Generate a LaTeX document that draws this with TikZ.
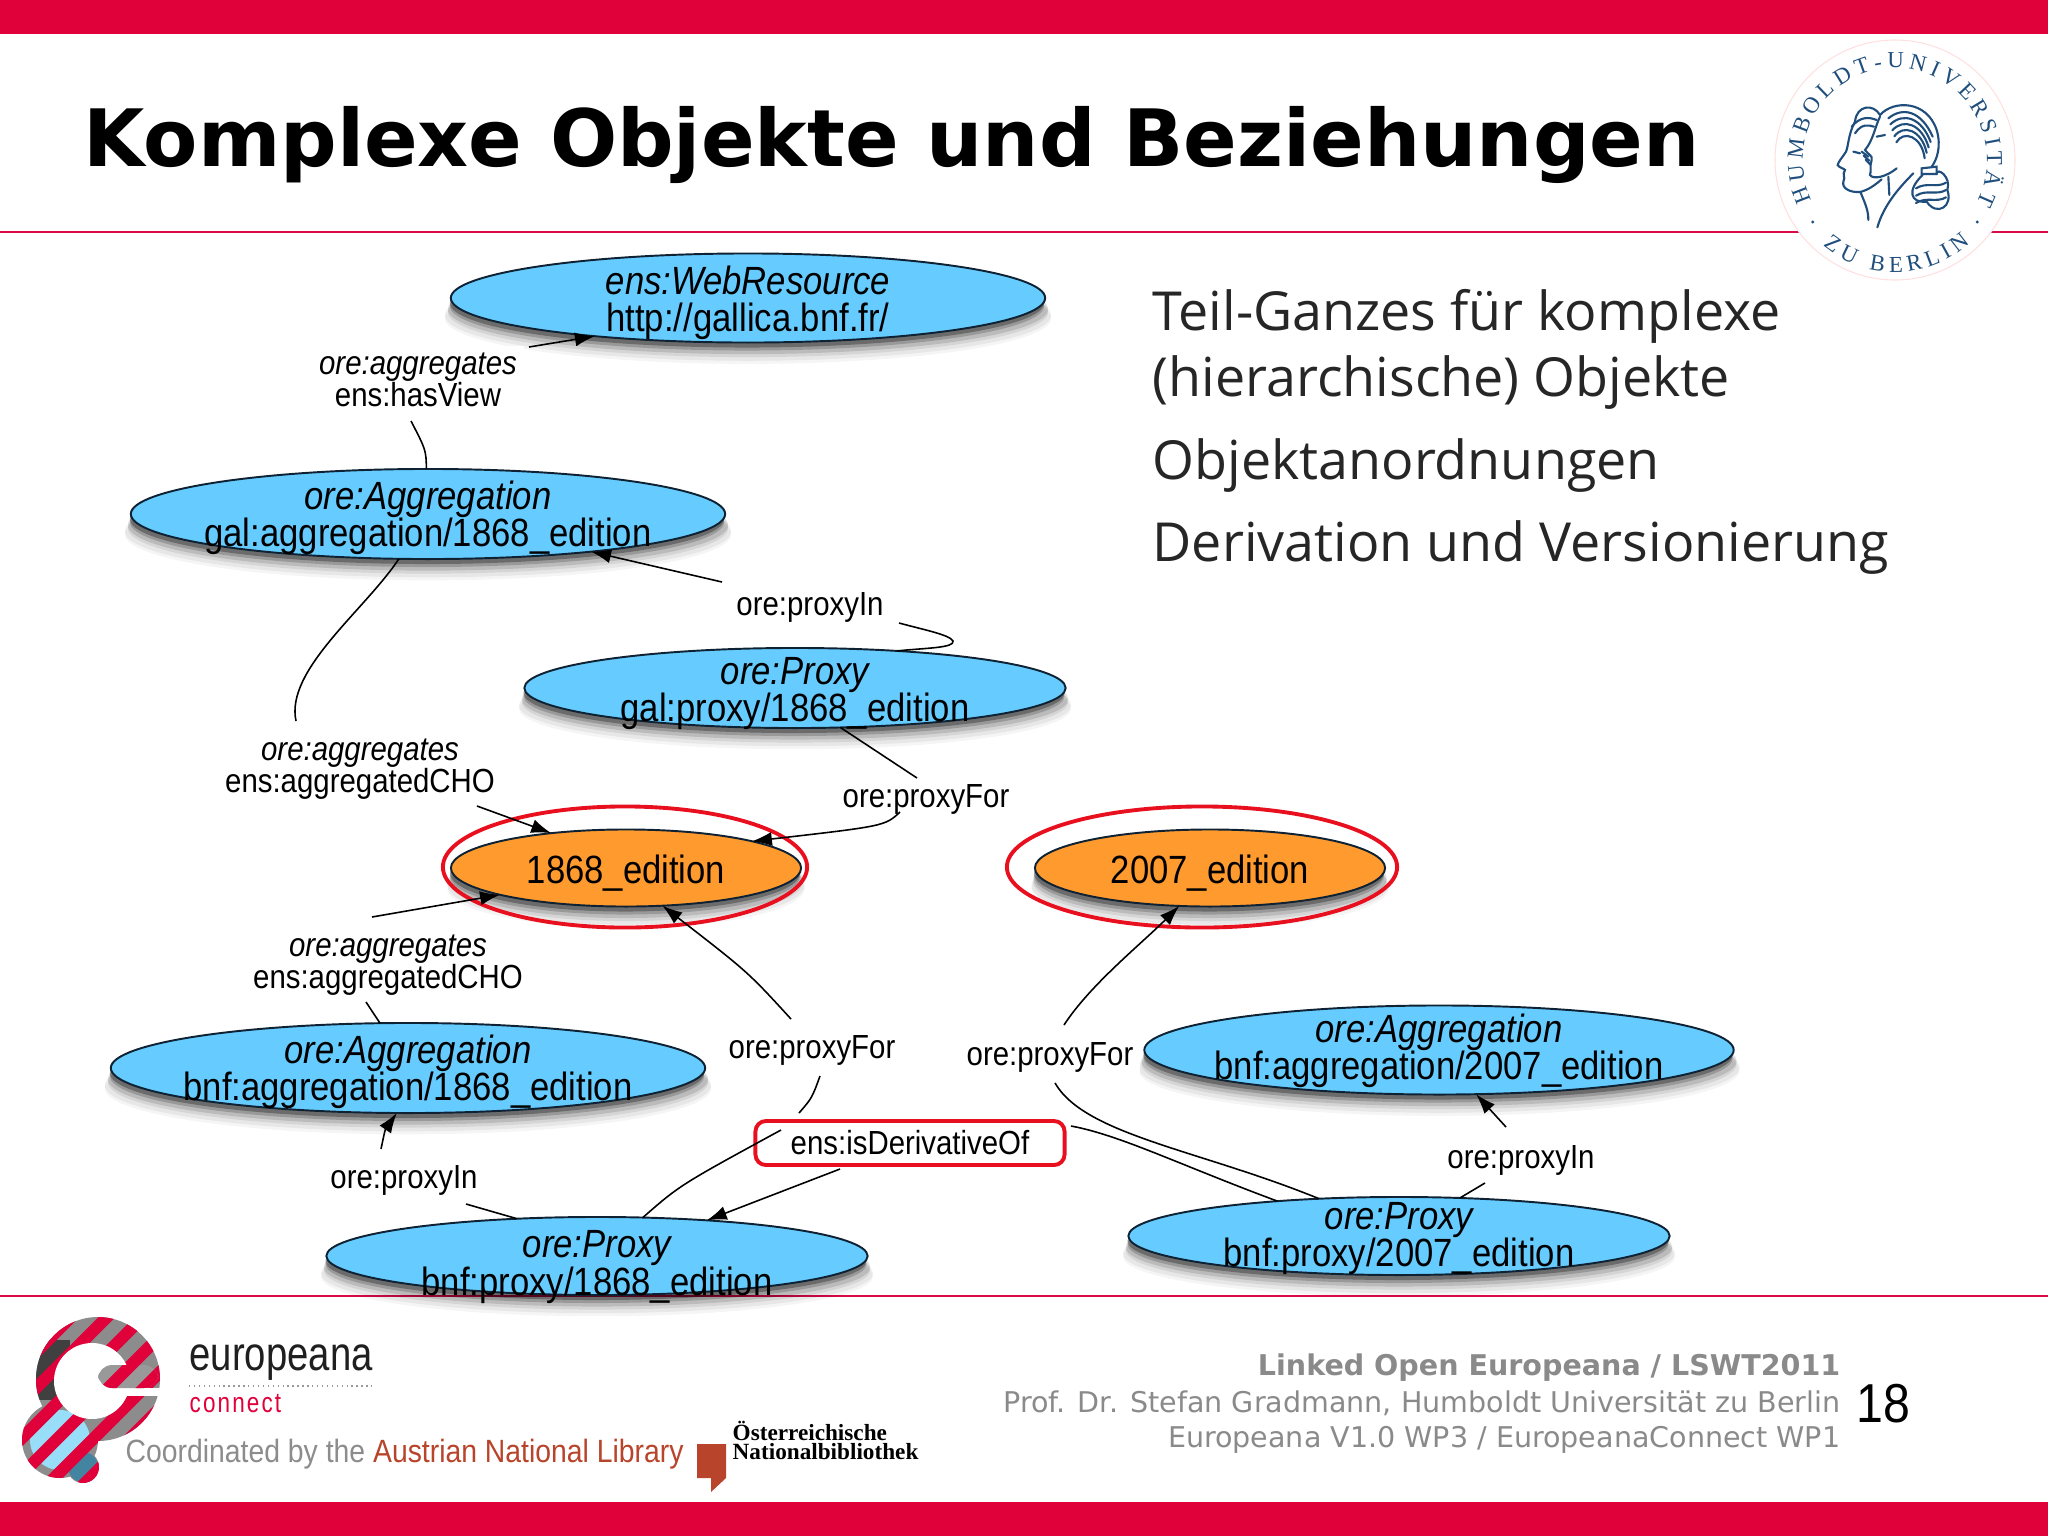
\documentclass[tikz,border=0pt]{standalone}
\usepackage{fontspec}
\usepackage{xcolor}
\usepackage{tikz}
\usetikzlibrary{arrows.meta,positioning,shapes.geometric,shadows,decorations.text}
\newfontfamily\graphfont[FakeStretch=0.88]{Liberation Sans}
\newfontfamily\bodyfont{Open Sans}
\newfontfamily\footfont{DejaVu Sans}
\newfontfamily\logofont[FakeStretch=0.8]{Liberation Sans}
\newfontfamily\onbfont{Liberation Serif}
\definecolor{ocrimson}{HTML}{E0003A}
\definecolor{orule}{HTML}{D80A48}
\definecolor{oblue}{HTML}{66CCFF}
\definecolor{oorange}{HTML}{FF9A2E}
\definecolor{oedge}{HTML}{0E2233}
\definecolor{oseal}{HTML}{1F4E7C}
\definecolor{ofoot}{HTML}{8A8A8A}
\definecolor{obrown}{HTML}{B8442B}
\definecolor{omark}{HTML}{E8101E}
\newcommand{\elltext}[3][-.37em]{\makebox[0pt]{\raisebox{#1}[0pt][0pt]{%
  \begin{tabular}{@{}c@{}}\itshape #2\\[-.7pt]#3\end{tabular}}}}
\newcommand{\itemtext}[1]{\makebox[0pt]{\raisebox{-.4em}[0pt][0pt]{#1}}}
\newcommand{\logostripes}{\foreach \s in {-8,...,8}
  \draw[ocrimson,line width=.12cm] (60+\s*36-100,1500) -- (60+\s*36+100,1300);}
\tikzset{
  elltype/.style={ellipse,draw=oedge,line width=.55pt,inner sep=0pt,outer sep=0pt,
    font=\graphfont\fontsize{11.2}{10.4}\selectfont,
    drop shadow={shadow xshift=0cm,shadow yshift=-.2cm,opacity=.04,fill=black,shadow scale=1.02},
    drop shadow={shadow xshift=0cm,shadow yshift=-.17cm,opacity=.06,fill=black,shadow scale=1.02},
    drop shadow={shadow xshift=0cm,shadow yshift=-.14cm,opacity=.08,fill=black,shadow scale=1.01},
    drop shadow={shadow xshift=0cm,shadow yshift=-.11cm,opacity=.12,fill=black,shadow scale=1.01},
    drop shadow={shadow xshift=-.01cm,shadow yshift=-.08cm,opacity=.18,fill=black},
    drop shadow={shadow xshift=-.01cm,shadow yshift=-.05cm,opacity=.3,fill=black}},
  classnode/.style={elltype,fill=oblue,minimum width=#1},
  classnode/.default=5.94cm,
  itemnode/.style={elltype,fill=oorange,minimum width=3.5cm,minimum height=.77cm},
  edgetext/.style={font=\graphfont\fontsize{9.5}{9.2}\selectfont,fill=white,
    align=center,inner sep=2pt},
  edgeline/.style={black,line width=.45pt},
  edgearrow/.style={edgeline,-{Latex[length=.2cm,width=.14cm]}},
  redmark/.style={draw=omark,line width=1.1pt},
  foottext/.style={font=\footfont\fontsize{8.12}{9}\selectfont,text=ofoot,anchor=east,inner sep=0pt},
  bodytext/.style={font=\bodyfont\fontsize{15.3}{18}\selectfont,text=black!85,anchor=west,inner sep=0pt}
}
\begin{document}
\begin{tikzpicture}[x=.01cm,y=-.01cm]
  \useasboundingbox (0,0) rectangle (2048,1536);
  % bars and rules
  \fill[ocrimson] (0,0) rectangle (2048,34);
  \fill[ocrimson] (0,1502) rectangle (2048,1536);
  \draw[orule,line width=.7pt] (0,232) -- (2048,232);
  \draw[orule,line width=.7pt] (0,1296) -- (2048,1296);

  % heading and right column
  \node[font=\footfont\bfseries\fontsize{22.5}{26}\selectfont,anchor=west,inner sep=0pt] (title) at (83,145)
    {Komplexe Objekte und Beziehungen};
  \node[bodytext] (lineA) at (1152,316) {Teil-Ganzes für komplexe};
  \node[bodytext] (lineB) at (1152,383) {(hierarchische) Objekte};
  \node[bodytext] (lineC) at (1152,466) {Objektanordnungen};
  \node[bodytext] (lineD) at (1152,548) {Derivation und Versionierung};

  % seal
  \begin{scope}[shift={(1895,160)},x=.01cm,y=.01cm]
    \fill[white] (0,0) circle (120);
    \draw[red!12,line width=.3pt] (0,0) circle (120);
    \path[decorate,decoration={text along path,text align={fit to path},
      text={|\onbfont\fontsize{6.5}{8}\selectfont\color{oseal}|HUMBOLDT-UNIVERSITÄT}}]
      (206:92) arc (206:-28:92);
    \path[decorate,decoration={text along path,text align={fit to path},
      text={|\onbfont\fontsize{6.5}{8}\selectfont\color{oseal}|ZU BERLIN}}]
      (230:112) arc (230:312:112);
    \fill[oseal] (217:103) circle (1.6);
    \fill[oseal] (-37:103) circle (1.6);
  \end{scope}
  \begin{scope}[shift={(1740,20)},x=.01cm/3,y=-.01cm/3,oseal,line width=.6pt,line cap=round]
    % profiles
    \draw (345,305) .. controls (325,340) and (325,380) .. (318,395) .. controls (305,415) and (295,425) .. (293,435)
      .. controls (300,445) and (312,445) .. (315,450) .. controls (305,465) and (318,470) .. (310,485)
      .. controls (305,505) and (330,518) .. (360,516) .. controls (385,510) and (405,495) .. (425,478);
    \draw (420,290) .. controls (405,320) and (400,360) .. (375,390) .. controls (385,405) and (398,405) .. (395,420)
      .. controls (388,440) and (395,450) .. (390,465) .. controls (400,480) and (440,470) .. (470,445);
    % hair
    \draw (420,285) .. controls (460,240) and (560,240) .. (590,330) .. controls (605,380) and (590,420) .. (575,440);
    \foreach \d in {0,18,36,54,72}
      \draw (445+\d/3,295+\d) .. controls (490,258+\d) and (545,275+\d) .. (578-\d/3,350+\d*.9);
    \draw (345,305) .. controls (350,255) and (400,250) .. (420,285);
    \draw (335,320) .. controls (360,290) and (385,290) .. (410,300);
    \draw (345,340) .. controls (365,310) and (385,315) .. (402,320);
    % queue
    \draw (545,445) -- (590,440) -- (590,462) -- (545,462) -- cycle;
    \draw (548,465) .. controls (500,510) and (510,550) .. (560,545) .. controls (590,590) and (640,560) .. (622,510)
      .. controls (635,470) and (590,440) .. (590,462);
    \foreach \d in {0,22,44}
      \draw (528,505+\d) .. controls (560,485+\d) and (590,505+\d) .. (618,488+\d);
    % necks and coat
    \draw (362,518) .. controls (375,550) and (385,570) .. (385,600);
    \draw (445,470) -- (448,525);
    \draw (520,460) .. controls (470,510) and (430,560) .. (412,622);
    \foreach \d in {0,12,24}
      \draw (365+\d/2,395+\d) -- (385+\d/4,410+\d);
    \draw (340,395) -- (360,400);
    \draw (410,350) -- (435,345);
  \end{scope}

  % resource nodes
  \node[classnode] (webRes) at (748,298) [minimum height=.89cm]
    {\elltext[-.4em]{ens:WebResource}{http://gallica.bnf.fr/}};
  \node[classnode] (aggGal) at (428,514) [minimum height=.9cm]
    {\elltext{ore:Aggregation}{gal:aggregation/1868\_edition}};
  \node[classnode=5.41cm] (proxyGal) at (795,688) [minimum height=.8cm]
    {\elltext[-.41em]{ore:Proxy}{gal:proxy/1868\_edition}};
  \node[itemnode] (editionA) at (626,868) {\itemtext{1868\_edition}};
  \node[itemnode] (editionB) at (1210,868) {\itemtext{2007\_edition}};
  \node[classnode] (aggBnfA) at (408,1068) [minimum height=.9cm]
    {\elltext{ore:Aggregation}{bnf:aggregation/1868\_edition}};
  \node[classnode=5.89cm] (aggBnfB) at (1439,1050) [minimum height=.89cm]
    {\elltext[-.3em]{ore:Aggregation}{bnf:aggregation/2007\_edition}};
  \node[classnode=5.41cm] (proxyBnfA) at (597,1256) [minimum height=.78cm]
    {\elltext[-.56em]{ore:Proxy}{bnf:proxy/1868\_edition}};
  \node[classnode=5.41cm] (proxyBnfB) at (1399,1236) [minimum height=.78cm]
    {\elltext[-.35em]{ore:Proxy}{bnf:proxy/2007\_edition}};

  % red markings
  \node[redmark,ellipse,minimum width=3.64cm,minimum height=1.21cm] (ringA) at (625,867) {};
  \node[redmark,ellipse,minimum width=3.9cm,minimum height=1.21cm] (ringB) at (1202,867) {};

  % edge labels
  \node[edgetext] (hasView) at (418,380) {\itshape ore:aggregates\\ens:hasView};
  \node[edgetext] (choA) at (360,769) {\itshape ore:aggregates\\ens:aggregatedCHO};
  \node[edgetext] (choB) at (388,965) {\itshape ore:aggregates\\ens:aggregatedCHO};
  \node[edgetext] (inGal) at (810,607) {ore:proxyIn};
  \node[edgetext] (inBnfA) at (404,1180) {ore:proxyIn};
  \node[edgetext] (inBnfB) at (1521,1160) {ore:proxyIn};
  \node[edgetext] (forGal) at (926,799) {ore:proxyFor};
  \node[edgetext] (forBnfA) at (812,1050) {ore:proxyFor};
  \node[edgetext] (forBnfB) at (1050,1057) {ore:proxyFor};
  \node[edgetext,redmark,rounded corners=3pt,minimum width=3.09cm,minimum height=.44cm] (derived) at (910,1143)
    {ens:isDerivativeOf};

  % free ends of the broken edges
  \foreach \nm/\x/\y in {a1/411/421, a2/529/347, b1/899/623, b2/722/582, c1/296/721, c2/477/806,
    d1/917/778, d2/900/812, e1/366/1002, e2/372/917, f1/466/1204, f2/381/1149, g1/781/1130,
    g2/799/1113, g3/820/1076, g4/791/1019, h1/1055/1083, h2/1064/1025, j1/1071/1126, j2/840/1169,
    k1/1485/1183, k2/1506/1127}
    \coordinate (\nm) at (\x,\y);

  % edges: first part up to the label, second part on to the target
  \draw[edgeline] (aggGal.92) .. controls (426,450) .. (a1);
  \draw[edgearrow] (a2) -- (webRes.194);
  \draw[edgeline] (proxyGal.20) .. controls (925,648) and (955,648) .. (953,641) .. controls (950,635) and (925,630) .. (b1);
  \draw[edgearrow] (b2) -- (aggGal.347.5);
  \draw[edgeline] (aggGal.237) .. controls (365,610) and (285,670) .. (c1);
  \draw[edgearrow] (c2) -- (editionA.155.7);
  \draw[edgeline] (proxyGal.319) -- (d1);
  \draw[edgearrow] (d2) .. controls (885,826) .. (editionA.12.6);
  \draw[edgeline] (aggBnfA.122) -- (e1);
  \draw[edgearrow] (e2) -- (editionA.192.3);
  \draw[edgeline] (proxyBnfA.155) -- (f1);
  \draw[edgearrow] (f2) .. controls (385,1130) .. (aggBnfA.256);
  \draw[edgeline] (proxyBnfA.40) .. controls (680,1185) .. (g1);
  \draw[edgeline] (g2) .. controls (812,1098) .. (g3);
  \draw[edgearrow] (g4) .. controls (748,972) .. (editionA.314);
  \draw[edgeline] (proxyBnfB.155) .. controls (1200,1150) and (1085,1135) .. (h1);
  \draw[edgearrow] (h2) .. controls (1090,985) and (1140,945) .. (editionB.231);
  \draw[edgeline] (proxyBnfB.164.5) .. controls (1180,1165) and (1120,1135) .. (j1);
  \draw[edgearrow] (j2) -- (proxyBnfA.18.4);
  \draw[edgeline] (proxyBnfB.32.4) -- (k1);
  \draw[edgearrow] (k2) -- (aggBnfB.310);

  % europeana mark
  \begin{scope}
    \clip (98,1379) circle (62) (60,1440) circle (38) (83,1467) circle (16);
    \fill[black!45] (0,1300) rectangle (200,1500);
    \fill[black!75] (30,1340) rectangle (70,1400);
    \fill[cyan!40!white] (60,1440) circle (30);
    \fill[cyan!60!black] (83,1467) circle (15);
    \logostripes
  \end{scope}
  \fill[white] (92,1381) circle (38);
  \fill[white] (92,1388) rectangle (170,1396);
  \begin{scope}
    \clip[rounded corners=4pt] (98,1365) rectangle (158,1388);
    \fill[black!40] (90,1360) rectangle (170,1395);
    \logostripes
  \end{scope}
  \node[font=\logofont\fontsize{13.6}{14}\selectfont,text=black!88,anchor=west,inner sep=0pt] (europeana) at (189,1363) {europeana};
  \draw[black!40,densely dotted,line width=.4pt] (189,1386) -- (372,1386);
  \node[font=\logofont\fontsize{8}{9}\selectfont,text=ocrimson,anchor=west,inner sep=0pt] (connect) at (189,1404) {c\kern.6pt o\kern.6pt n\kern.6pt n\kern.6pt e\kern.6pt c\kern.6pt t};
  \node[font=\graphfont\fontsize{9.16}{10}\selectfont,text=black!45,anchor=west,inner sep=0pt] (coordinated) at (125,1454)
    {Coordinated by the \textcolor{obrown}{Austrian National Library}};
  \fill[obrown] (697,1444) -- (726,1444) -- (726,1478) -- (711,1492) -- (711,1478) -- (697,1478) -- cycle;
  \node[font=\onbfont\bfseries\fontsize{6.6}{7}\selectfont,anchor=west,inner sep=0pt] (onbA) at (732,1431) {Österreichische};
  \node[font=\onbfont\bfseries\fontsize{6.6}{7}\selectfont,anchor=west,inner sep=0pt] (onbB) at (732,1452) {Nationalbibliothek};

  % footer text
  \node[foottext,font=\footfont\bfseries\fontsize{8.12}{9}\selectfont] (footA) at (1841,1368) {Linked Open Europeana / LSWT2011};
  \node[foottext] (footB) at (1841,1403) {Prof. Dr. Stefan Gradmann, Humboldt Universität zu Berlin};
  \node[foottext] (footC) at (1841,1440) {Europeana V1.0 WP3 / EuropeanaConnect WP1};
  \node[font=\graphfont\fontsize{15.6}{17}\selectfont,inner sep=0pt] (pageNo) at (1883,1404) {18};
\end{tikzpicture}
\end{document}
